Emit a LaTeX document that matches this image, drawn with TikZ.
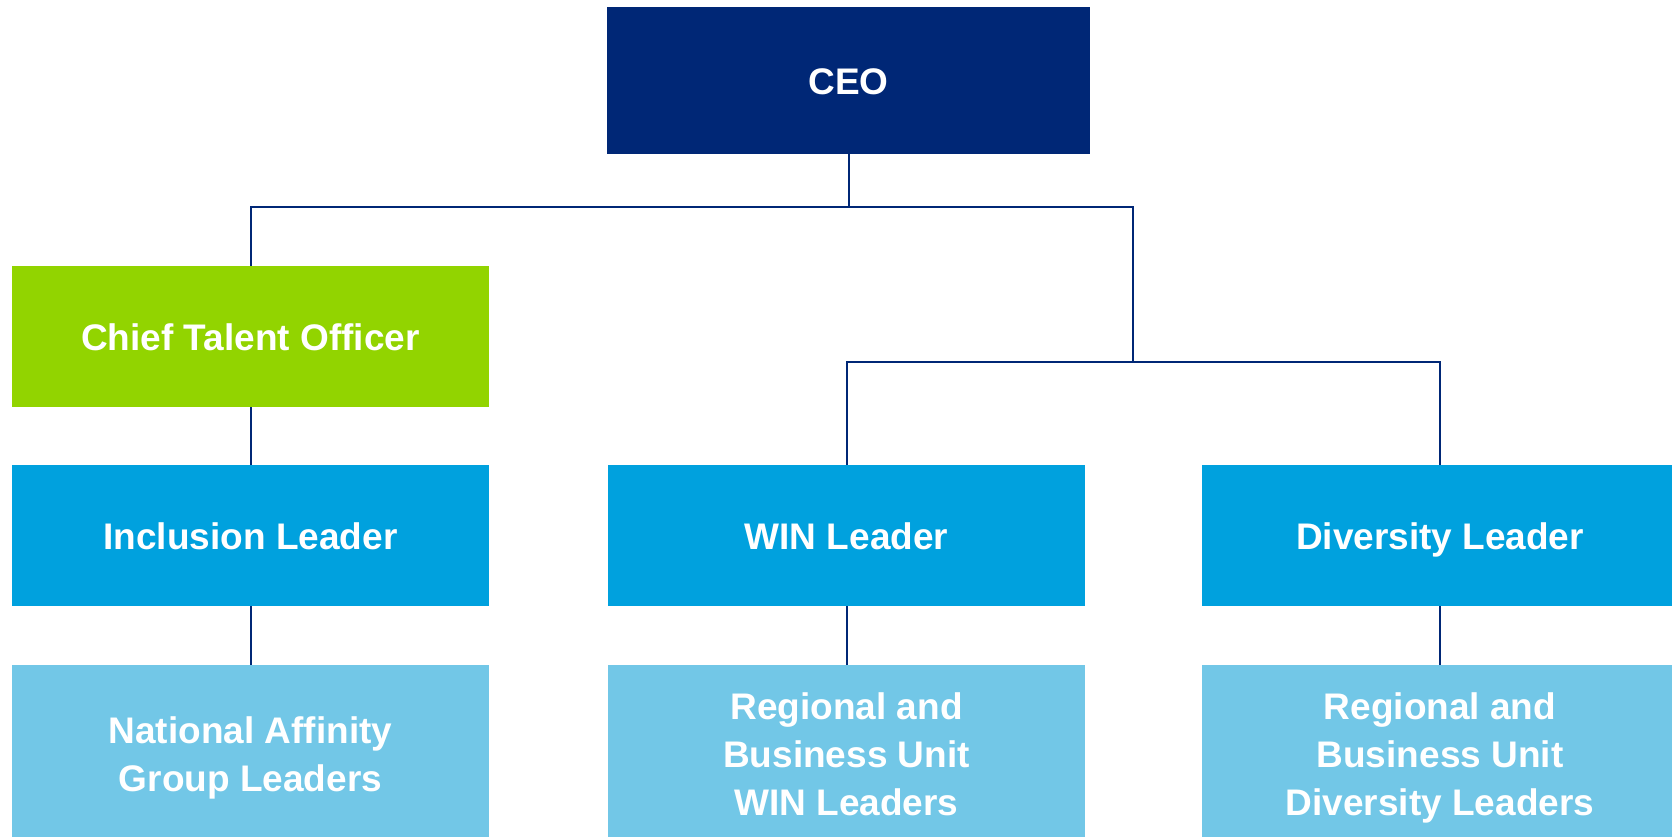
\documentclass[tikz,border=0pt]{standalone}
\usepackage{fontspec}
\setmainfont{Liberation Sans}
\definecolor{ceoblue}{HTML}{002776}
\definecolor{talentgreen}{HTML}{92D400}
\definecolor{leaderblue}{HTML}{00A1DE}
\definecolor{teamblue}{HTML}{72C7E7}
\begin{document}
\begin{tikzpicture}[x=1pt, y=-1pt,
  box/.style={inner sep=0pt, minimum width=477pt, minimum height=141pt,
    text=white, align=center, font=\fontsize{37}{48}\selectfont\bfseries},
  onebox/.style={box, text height=28pt, text depth=1pt},
  teambox/.style={box, fill=teamblue, minimum height=192pt},
  link/.style={draw=ceoblue, line width=2pt}]
\useasboundingbox (0,0) rectangle (1672,836);

% top of the chart
\node[onebox, fill=ceoblue, minimum width=483pt, minimum height=147pt] (ceo) at (848.5,80.5) {CEO};
\node[onebox, fill=talentgreen] (cto) at (250.5,336.5) {Chief Talent Officer};

% leaders row
\node[onebox, fill=leaderblue] (inc) at (250.5,535.5) {Inclusion Leader};
\node[onebox, fill=leaderblue] (win) at (846.5,535.5) {WIN Leader};
\node[onebox, fill=leaderblue] (div) at (1440,535.5) {Diversity Leader};

% bottom row, runs off the page
\node[teambox] (nat) at (250.5,761) {National Affinity\\Group Leaders\strut};
\node[teambox] (winteam) at (846.5,761) {Regional and\\Business Unit\\WIN Leaders\strut};
\node[teambox] (divteam) at (1440,761) {Regional and\\Business Unit\\Diversity Leaders\strut};

\coordinate (split) at (1133,362);

\draw[link] (ceo.south) -- ++(0,53) -| (cto.north);
\draw[link] (ceo.south) ++(0,53) -| (split);
\draw[link] (win.north) |- (split) -| (div.north);
\draw[link] (cto.south) -- (inc.north);
\draw[link] (inc.south) -- (nat.north);
\draw[link] (win.south) -- (winteam.north);
\draw[link] (div.south) -- (divteam.north);
\end{tikzpicture}
\end{document}
